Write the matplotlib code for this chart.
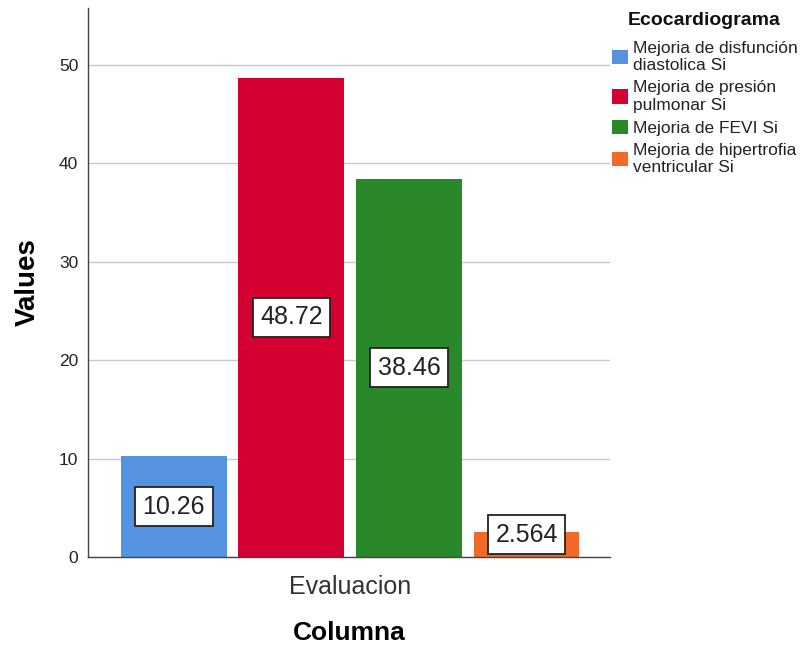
import matplotlib.pyplot as plt
from matplotlib.patches import Patch

plt.rcParams['font.family'] = ['Liberation Sans', 'DejaVu Sans']

# Datos del gráfico
categorias = ['Mejoria de disfunción\ndiastolica Si',
              'Mejoria de presión\npulmonar Si',
              'Mejoria de FEVI Si',
              'Mejoria de hipertrofia\nventricular Si']
valores = [10.26, 48.72, 38.46, 2.564]
etiquetas = ['10.26', '48.72', '38.46', '2.564']
colores = ['#5592e0', '#d50032', '#2a882b', '#f26a2a']

fig = plt.figure(figsize=(8.01, 6.47), dpi=100)
ax = fig.add_axes([88 / 801, 90 / 647, 522 / 801, 549 / 647])

posiciones = list(range(len(valores)))
ax.bar(posiciones, valores, width=0.9, color=colores, zorder=2)

# Etiquetas con caja blanca en el centro de cada barra
for x, v, t in zip(posiciones, valores, etiquetas):
    ax.text(x, max(v / 2, 2.25), t, ha='center', va='center', fontsize=18,
            color='#222222', zorder=3,
            bbox=dict(boxstyle='square,pad=0.3', fc='white', ec='#222222', lw=1.3))

ax.set_xlim(-0.73, 3.71)
ax.set_ylim(0, 55.8)
ax.set_yticks([0, 10, 20, 30, 40, 50])
ax.yaxis.grid(True, color='#c8c8c8', lw=1, zorder=0)
ax.set_xticks([1.5])
ax.set_xticklabels(['Evaluacion'], fontsize=18, color='#333333')
ax.tick_params(axis='x', length=0, pad=13)
ax.tick_params(axis='y', length=0, labelsize=12.5, pad=7, labelcolor='#222222')

for lado in ['top', 'right']:
    ax.spines[lado].set_visible(False)
for lado in ['left', 'bottom']:
    ax.spines[lado].set_color('#444444')
    ax.spines[lado].set_linewidth(1)

ax.set_ylabel('Values', fontsize=20, fontweight='bold', labelpad=13)
ax.set_xlabel('Columna', fontsize=19, fontweight='bold', labelpad=16)

# Leyenda
fig.text(628 / 801, 1 - 12 / 647, 'Ecocardiograma', fontsize=14, fontweight='bold',
         va='top', ha='left', color='#111111')
manejadores = [Patch(facecolor=c, edgecolor='none') for c in colores]
leg = fig.legend(manejadores, categorias, loc='upper left',
                 bbox_to_anchor=(612 / 801, 1 - 41 / 647), frameon=False,
                 fontsize=12.5, handlelength=0.9, handleheight=0.9, handletextpad=0.3,
                 labelspacing=0.4, borderaxespad=0, borderpad=0)
for t in leg.get_texts():
    t.set_linespacing(1.2)
    t.set_color('#222222')

fig.savefig('out.png', dpi=100)
